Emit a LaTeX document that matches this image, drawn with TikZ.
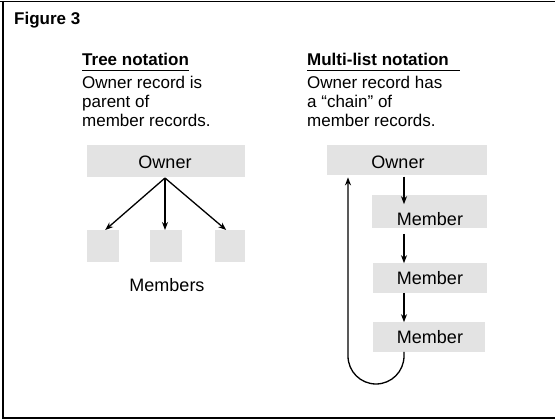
\documentclass[tikz,border=0pt]{standalone}
\usepackage{fontspec}
\setmainfont{Liberation Sans}
\usetikzlibrary{arrows.meta,calc}
\begin{document}
\begin{tikzpicture}[x=1pt,y=-1pt,
  txt/.style={font=\fontsize{17}{19}\selectfont, anchor=base west, inner sep=0pt},
  head/.style={font=\fontsize{17}{19}\selectfont\bfseries, anchor=base west, inner sep=0pt},
  lbl/.style={font=\fontsize{18}{20}\selectfont, inner sep=0pt},
  rec/.style={fill=gray!22, draw=none, inner sep=0pt, anchor=north west},
  arr/.style={line width=1.3pt, -{Stealth[length=8pt,width=6pt]}},
  uline/.style={line width=1pt}]
\useasboundingbox (0,0) rectangle (555,420);
% frame
\draw[line width=1.2pt] (0,1.5) -- (555,1.5);
\draw[line width=1.8pt] (3,1) -- (3,418) -- (555,418);
\node[head] (fig) at (14,25) {Figure 3};
% left heading
\node[head] (h1) at (82,66) {Tree notation};
\draw[uline] ($(h1.base west)+(0,5)$) -- ($(h1.base east)+(0,5)$);
\node[txt] (l1) at (82,89) {Owner record is};
\node[txt] (l2) at (82,108) {parent of};
\node[txt] (l3) at (82,127) {member records.};
% right heading
\node[head] (h2) at (307,66) {Multi-list notation};
\draw[uline] ($(h2.base west)+(0,5)$) -- ($(h2.base east)+(11,5)$);
\node[txt] (r1) at (307,89) {Owner record has};
\node[txt] (r2) at (307,108) {a “chain” of};
\node[txt] (r3) at (307,127) {member records.};
% tree
\node[rec, minimum width=158pt, minimum height=32pt] (tob) at (87,145) {};
\node[lbl] (to) at (165,162) {Owner};
\node[rec, minimum width=32pt, minimum height=32pt] (tm1) at (87,230) {};
\node[rec, minimum width=32pt, minimum height=32pt] (tm2) at (150,230) {};
\node[rec, minimum width=30pt, minimum height=32pt] (tm3) at (215,230) {};
\coordinate (troot) at (165,178);
\draw[arr] (troot) -- ($(tm1.north)+(2,0)$);
\draw[arr] (troot) -- (tm2.north -| troot);
\draw[arr] (troot) -- ($(tm3.north)+(-4,0)$);
\node[lbl] (mems) at (167,285) {Members};
% multi-list
\node[rec, minimum width=160pt, minimum height=30pt] (mob) at (327,145) {};
\node[rec, minimum width=115pt, minimum height=33pt] (mb1) at (372,195) {};
\node[rec, minimum width=114pt, minimum height=30pt] (mb2) at (373,263) {};
\node[rec, minimum width=112pt, minimum height=30pt] (mb3) at (373,322) {};
\node[lbl] (mo) at (398,162) {Owner};
\node[lbl] (t1) at (430,219) {Member};
\node[lbl] (t2) at (430,278) {Member};
\node[lbl] (t3) at (430,337) {Member};
\coordinate (ax) at (404,0);
\coordinate (lx) at (348,0);
\draw[arr, shorten <=8pt, shorten >=8pt] (mo.south -| ax) -- (t1.north -| ax);
\draw[arr, shorten <=8pt, shorten >=8pt] (t1.south -| ax) -- (t2.north -| ax);
\draw[arr, shorten <=8pt, shorten >=8pt] (t2.south -| ax) -- (t3.north -| ax);
\draw[arr, shorten <=8pt, shorten >=2pt] (t3.south -| ax) -- (404,356)
  arc[start angle=0, end angle=-180, radius=28pt] -- (mob.south -| lx);
\end{tikzpicture}
\end{document}
